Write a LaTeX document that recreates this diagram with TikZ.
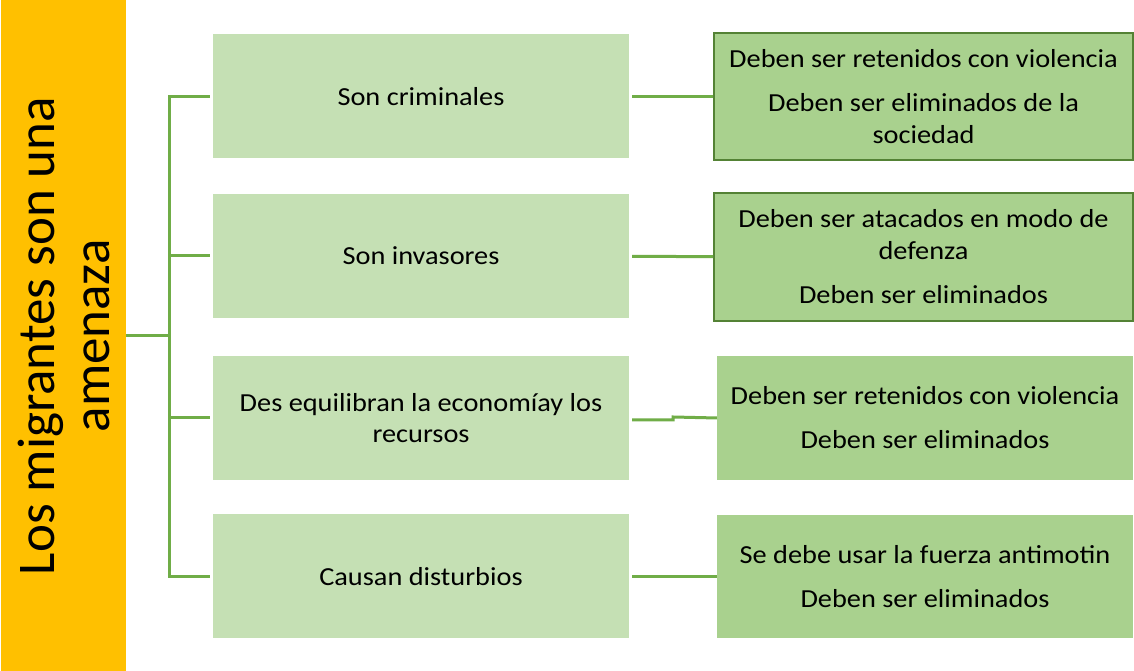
\documentclass[tikz,border=0pt]{standalone}
\usepackage{fontspec}
\setmainfont{Carlito}
\newfontfamily\bodyf[FakeStretch=1.09]{Carlito}
\definecolor{orangeA}{HTML}{FFC000}
\definecolor{midG}{HTML}{C5E0B4}
\definecolor{rightG}{HTML}{A9D18E}
\definecolor{lineG}{HTML}{70AD47}
\definecolor{borderG}{HTML}{548235}
\tikzset{
  midbox/.style={fill=midG, minimum width=416pt, minimum height=124pt, align=center, inner sep=0pt, font=\bodyf\fontsize{26}{31}\selectfont},
  rbox/.style={fill=rightG, align=center, inner sep=0pt, font=\bodyf\fontsize{26}{32}\selectfont},
  rboxb/.style={rbox, draw=borderG, line width=1.8pt},
  conn/.style={draw=lineG, line width=3pt}
}
\begin{document}
\begin{tikzpicture}[x=1pt,y=1pt]
\useasboundingbox (0,0) rectangle (1134,671);
\fill[white] (0,0) rectangle (1134,671);
\node[fill=orangeA, minimum width=125pt, minimum height=671pt, inner sep=0pt] (O) at (63.5,335.5) {};
\node[rotate=90, align=center, font=\fontsize{53}{55}\selectfont] (T) at (64,335) {Los migrantes son una\\amenaza};
\node[midbox] (m1) at (421,574.5) {Son criminales};
\node[midbox] (m2) at (421,415) {Son invasores};
\node[midbox] (m3) at (421,253) {Des equilibran la economíay los\\recursos};
\node[midbox] (m4) at (421,94.5) {Causan disturbios};
\node[rboxb, minimum width=419pt, minimum height=127pt] (r1) at (923.5,574.5) {Deben ser retenidos con violencia\\[12pt]Deben ser eliminados de la\\sociedad};
\node[rboxb, minimum width=419pt, minimum height=128pt] (r2) at (923.5,414) {Deben ser atacados en modo de\\defenza\\[12pt]Deben ser eliminados};
\node[rbox, minimum width=416pt, minimum height=124pt] (r3) at (925,253) {Deben ser retenidos con violencia\\[12pt]Deben ser eliminados};
\node[rbox, minimum width=416pt, minimum height=123pt] (r4) at (925,94.5) {Se debe usar la fuerza antimotin\\[12pt]Deben ser eliminados};
\coordinate (j) at (169,335);
\draw[conn] (O.east |- j) -- (j);
\draw[conn, shorten <=3pt] (m1.west) -| (j);
\draw[conn, shorten <=3pt] (m2.west) -| (j);
\draw[conn, shorten <=3pt] (m3.west) -| (j);
\draw[conn, shorten <=3pt] (m4.west) -| (j);
\draw[conn, shorten <=3pt] (m1) -- (r1);
\draw[conn, shorten <=3pt] (m2) -- (r2);
\coordinate (k) at (673,253);
\draw[conn, shorten <=3pt] (m3.east |- 0,251) -- (673,251) -- (673,254) -- (r3.west |- k);
\draw[conn, shorten <=3pt] (m4) -- (r4);
\end{tikzpicture}
\end{document}
